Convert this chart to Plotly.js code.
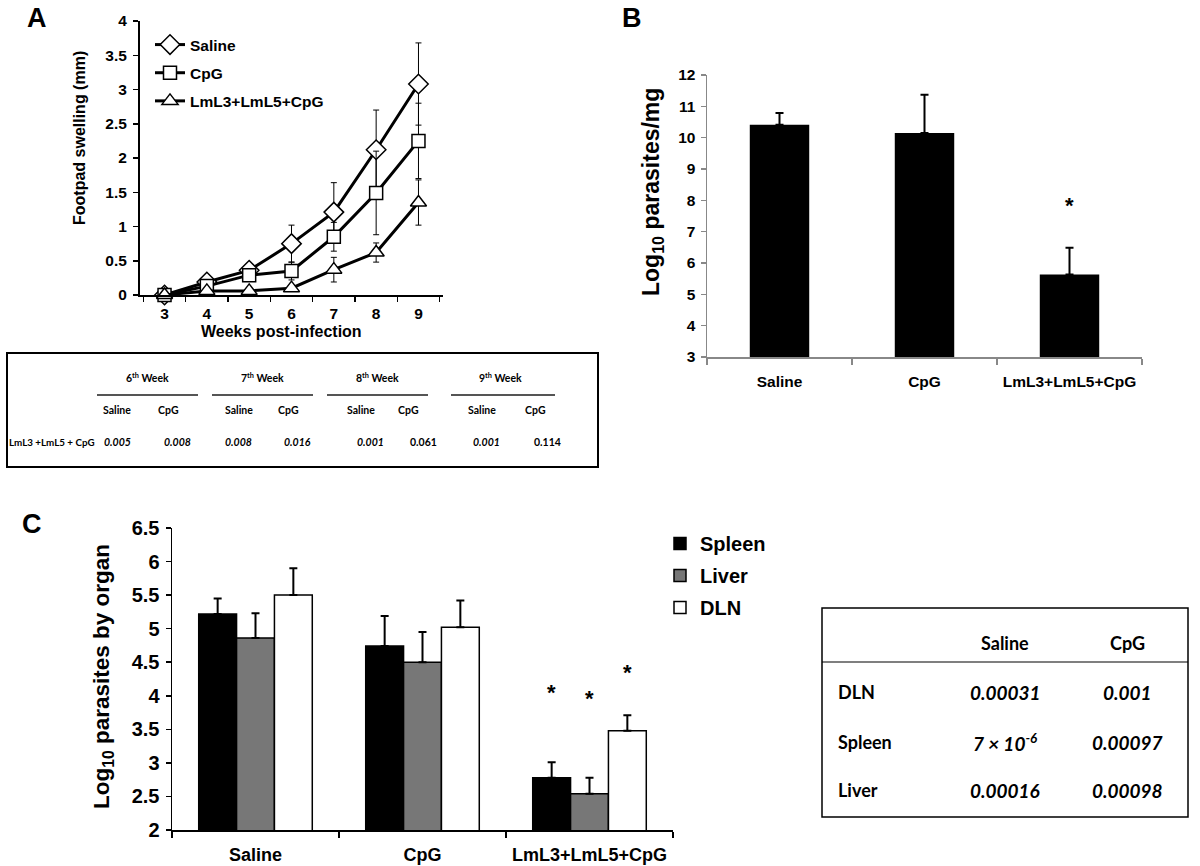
<!DOCTYPE html>
<html><head><meta charset="utf-8">
<script src="https://cdn.plot.ly/plotly-3.0.1.min.js"></script>
<style>html,body{margin:0;padding:0;background:#fff}#chart{width:1200px;height:866px}</style>
</head><body><div id="chart"></div>
<script>
// ---------- Panel A data ----------
const weeksA = ['3','4','5','6','7','8','9'];
const seriesNamesA = ['Saline','CpG','LmL3+LmL5+CpG'];
const salineA = [0, 0.19, 0.36, 0.75, 1.21, 2.12, 3.08];
const salineAErr = [0.03, 0.03, 0.04, 0.27, 0.43, 0.58, 0.60];
const cpgA = [0, 0.13, 0.29, 0.35, 0.85, 1.49, 2.25];
const cpgAErr = [0.02, 0.02, 0.04, 0.13, 0.21, 0.61, 0.55];
const lmlA = [0, 0.06, 0.06, 0.10, 0.37, 0.62, 1.35];
const lmlAErr = [0.02, 0.02, 0.02, 0.03, 0.18, 0.14, 0.33];

// ---------- Panel B data ----------
const groupsB = ['Saline','CpG','LmL3+LmL5+CpG'];
const valuesB = [10.41, 10.15, 5.63];
const errB = [0.38, 1.22, 0.86];
const starB = [null, null, 7.85];

// ---------- Panel C data ----------
const groupsC = ['Saline','CpG','LmL3+LmL5+CpG'];
const organNames = ['Spleen','Liver','DLN'];
const spleenC = [5.22, 4.74, 2.78];
const spleenErr = [0.23, 0.45, 0.23];
const liverC = [4.86, 4.50, 2.54];
const liverErr = [0.37, 0.45, 0.24];
const dlnC = [5.50, 5.02, 3.48];
const dlnErr = [0.40, 0.40, 0.23];
const starC = [4.05, 3.96, 4.34]; // star heights over LmL3+LmL5+CpG group (spleen, liver, DLN)

// ---------- Table A (p values) ----------
const tableAWeeks = ['6<sup>th</sup> Week','7<sup>th</sup> Week','8<sup>th</sup> Week','9<sup>th</sup> Week'];
const tableACols = ['Saline','CpG'];
const tableARowLabel = 'LmL3 +LmL5 + CpG';
const tableAValues = ['0.005','0.008','0.008','0.016','0.001','0.061','0.001','0.114'];
const tableAItalic = [true,true,true,true,true,false,true,false];

// ---------- Table C (p values) ----------
const tableCCols = ['Saline','CpG'];
const tableCRows = ['DLN','Spleen','Liver'];
const tableCSaline = ['0.00031','7 × 10<sup>-6</sup>','0.00016'];
const tableCCpG = ['0.001','0.00097','0.00098'];

// ---------- helpers / styles ----------
const W = 1200, H = 866;
const X = p => p / W, Y = p => 1 - p / H;
const FONT = 'Liberation Sans, Arial, sans-serif';
const TFONT = 'Lato, Liberation Sans, sans-serif';
const bold = (size, fam) => ({family: fam || FONT, size: size, color: '#000', weight: 'bold'});

const traces = [];

// Panel A lines
const aVals = [salineA, cpgA, lmlA];
const aErrs = [salineAErr, cpgAErr, lmlAErr];
const aSymbols = ['diamond', 'square', 'triangle-up'];
const aSizes = [15, 13, 14];
aVals.forEach((v, i) => {
  traces.push({
    type: 'scatter', mode: 'lines+markers', name: seriesNamesA[i],
    x: weeksA, y: v, xaxis: 'x', yaxis: 'y',
    legend: 'legend', legendgroup: 'a' + i,
    line: {color: '#000', width: 3},
    marker: {symbol: aSymbols[i], size: aSizes[i], color: '#fff', line: {color: '#000', width: 1.5}},
    error_y: {type: 'data', array: aErrs[i], color: '#000', thickness: 1, width: 3},
    cliponaxis: false
  });
});

// Panel B bars
traces.push({
  type: 'bar', x: groupsB, y: valuesB, xaxis: 'x2', yaxis: 'y2', showlegend: false,
  width: 0.41, marker: {color: '#000'},
  error_y: {type: 'data', symmetric: false, array: errB, arrayminus: errB.map(() => 0), color: '#000', thickness: 2, width: 4}
});

// Panel C bars
const cVals = [spleenC, liverC, dlnC];
const cErrs = [spleenErr, liverErr, dlnErr];
const cColors = ['#000000', '#777777', '#ffffff'];
cVals.forEach((v, i) => {
  traces.push({
    type: 'bar', name: organNames[i], x: groupsC, y: v, xaxis: 'x3', yaxis: 'y3',
    legend: 'legend2', legendgroup: 'c' + i,
    marker: {color: cColors[i], line: {color: '#000', width: 1.5}},
    error_y: {type: 'data', symmetric: false, array: cErrs[i], arrayminus: cErrs[i].map(() => 0), color: '#000', thickness: 2, width: 4}
  });
});

const BARGAP_C = 0.32;
const barW = (1 - BARGAP_C) / 3;

const annotations = [];
const shapes = [];
const ann = (x, y, text, font, extra) => annotations.push(Object.assign({
  xref: 'paper', yref: 'paper', x: X(x), y: Y(y), text: text, showarrow: false, font: font,
  xanchor: 'center', yanchor: 'middle'
}, extra || {}));

// Panel letters
ann(37, 18, 'A', bold(27));
ann(632, 18, 'B', bold(27));
ann(32, 524, 'C', bold(27));

// Axis titles
ann(80, 138, 'Footpad swelling (mm)', bold(16), {textangle: -90});
ann(281, 331, 'Weeks post-infection', bold(16));
ann(653, 192, 'Log<sub>10</sub> parasites/mg', bold(23), {textangle: -90});
ann(103, 677, 'Log<sub>10</sub> parasites by organ', bold(22.5), {textangle: -90});

// Stars
starB.forEach((s, i) => {
  if (s !== null) annotations.push({xref: 'x2', yref: 'y2', x: groupsB[i], y: s, text: '*', showarrow: false, font: bold(22), yanchor: 'middle'});
});
starC.forEach((s, i) => {
  annotations.push({xref: 'x3', yref: 'y3', x: 2 + (i - 1) * barW, y: s, text: '*', showarrow: false, font: bold(22), yanchor: 'middle'});
});

// Table A
shapes.push({type: 'rect', xref: 'paper', yref: 'paper', x0: X(7), x1: X(598), y0: Y(467), y1: Y(353), line: {color: '#000', width: 2}});
const weekCenters = [147, 262, 377, 500];
const ruleSpans = [[97, 198], [212, 313], [327, 428], [451, 555]];
const subX = [117, 168, 239, 288, 361, 408, 482, 535];
const valX = [117, 177, 238, 297, 370, 423, 486, 547];
tableAWeeks.forEach((w, i) => {
  ann(weekCenters[i], 377, w, bold(10.5, TFONT));
  shapes.push({type: 'line', xref: 'paper', yref: 'paper', x0: X(ruleSpans[i][0]), x1: X(ruleSpans[i][1]), y0: Y(395), y1: Y(395), line: {color: '#555', width: 2}});
  tableACols.forEach((c, j) => ann(subX[i * 2 + j], 410, c, bold(10.5, TFONT)));
});
ann(7, 442, tableARowLabel, bold(9.8, TFONT), {xanchor: 'left'});
tableAValues.forEach((v, i) => {
  ann(valX[i], 442, tableAItalic[i] ? '<i>' + v + '</i>' : v, bold(10.5, TFONT));
});

// Table C
shapes.push({type: 'rect', xref: 'paper', yref: 'paper', x0: X(822), x1: X(1188), y0: Y(817), y1: Y(608), line: {color: '#000', width: 1.5}});
shapes.push({type: 'line', xref: 'paper', yref: 'paper', x0: X(822), x1: X(1188), y0: Y(662), y1: Y(662), line: {color: '#000', width: 1.2}});
const tcColX = [1005, 1127];
tableCCols.forEach((c, j) => ann(tcColX[j], 643, c, bold(18, TFONT)));
const tcRowY = [692, 742, 790];
tableCRows.forEach((r, i) => {
  ann(836, tcRowY[i], r, bold(18, TFONT), {xanchor: 'left'});
  ann(tcColX[0], tcRowY[i], '<i>' + tableCSaline[i] + '</i>', bold(19, TFONT));
  ann(tcColX[1], tcRowY[i], '<i>' + tableCCpG[i] + '</i>', bold(19, TFONT));
});

const baseAxis = {showgrid: false, zeroline: false, showline: true, ticks: 'outside', fixedrange: true};

const layout = {
  width: W, height: H, margin: {l: 0, r: 0, t: 0, b: 0},
  paper_bgcolor: '#fff', plot_bgcolor: 'rgba(0,0,0,0)',
  font: {family: FONT, color: '#000'},
  barmode: 'group', bargap: BARGAP_C, bargroupgap: 0,
  showlegend: true,
  legend: {x: X(150), y: Y(28), xanchor: 'left', yanchor: 'top', bgcolor: 'rgba(0,0,0,0)',
           font: bold(15.5), tracegroupgap: 5, traceorder: 'grouped', itemwidth: 30},
  legend2: {x: X(660), y: Y(524), xanchor: 'left', yanchor: 'top', bgcolor: 'rgba(0,0,0,0)',
            font: bold(20), tracegroupgap: 3, traceorder: 'grouped', itemwidth: 30},
  xaxis: Object.assign({}, baseAxis, {domain: [X(140), X(443)], anchor: 'y', type: 'category', tickson: 'boundaries', tickangle: 0,
          linecolor: '#000', linewidth: 2, tickcolor: '#000', tickwidth: 1.5, ticklen: 5, tickfont: bold(15.5), ticklabelstandoff: 3}),
  yaxis: Object.assign({}, baseAxis, {domain: [Y(295), Y(21)], anchor: 'x', range: [0, 4], dtick: 0.5,
          linecolor: '#000', linewidth: 2, tickcolor: '#000', tickwidth: 1.5, ticklen: 5, tickfont: bold(15.5), ticklabelstandoff: 3}),
  xaxis2: Object.assign({}, baseAxis, {domain: [X(707), X(1142)], anchor: 'y2', type: 'category', tickson: 'boundaries', tickangle: 0,
          linecolor: '#888', linewidth: 1.5, tickcolor: '#888', tickwidth: 1.5, ticklen: 6, tickfont: bold(15.5), ticklabelstandoff: 10}),
  yaxis2: Object.assign({}, baseAxis, {domain: [Y(357), Y(75)], anchor: 'x2', range: [3, 12], dtick: 1,
          linecolor: '#888', linewidth: 1.5, tickcolor: '#888', tickwidth: 1.5, ticklen: 5, tickfont: bold(15.5), ticklabelstandoff: 2}),
  xaxis3: Object.assign({}, baseAxis, {domain: [X(172), X(673)], anchor: 'y3', type: 'category', tickson: 'boundaries', tickangle: 0,
          linecolor: '#000', linewidth: 1.5, tickcolor: '#000', tickwidth: 1.5, ticklen: 6, tickfont: bold(18), ticklabelstandoff: 8}),
  yaxis3: Object.assign({}, baseAxis, {domain: [Y(830), Y(528)], anchor: 'x3', range: [2, 6.5], dtick: 0.5,
          linecolor: '#000', linewidth: 1.5, tickcolor: '#000', tickwidth: 1.5, ticklen: 5, tickfont: bold(20), ticklabelstandoff: 2}),
  annotations: annotations,
  shapes: shapes
};

Plotly.newPlot('chart', traces, layout, {displayModeBar: false, staticPlot: true});
</script>
</body></html>
